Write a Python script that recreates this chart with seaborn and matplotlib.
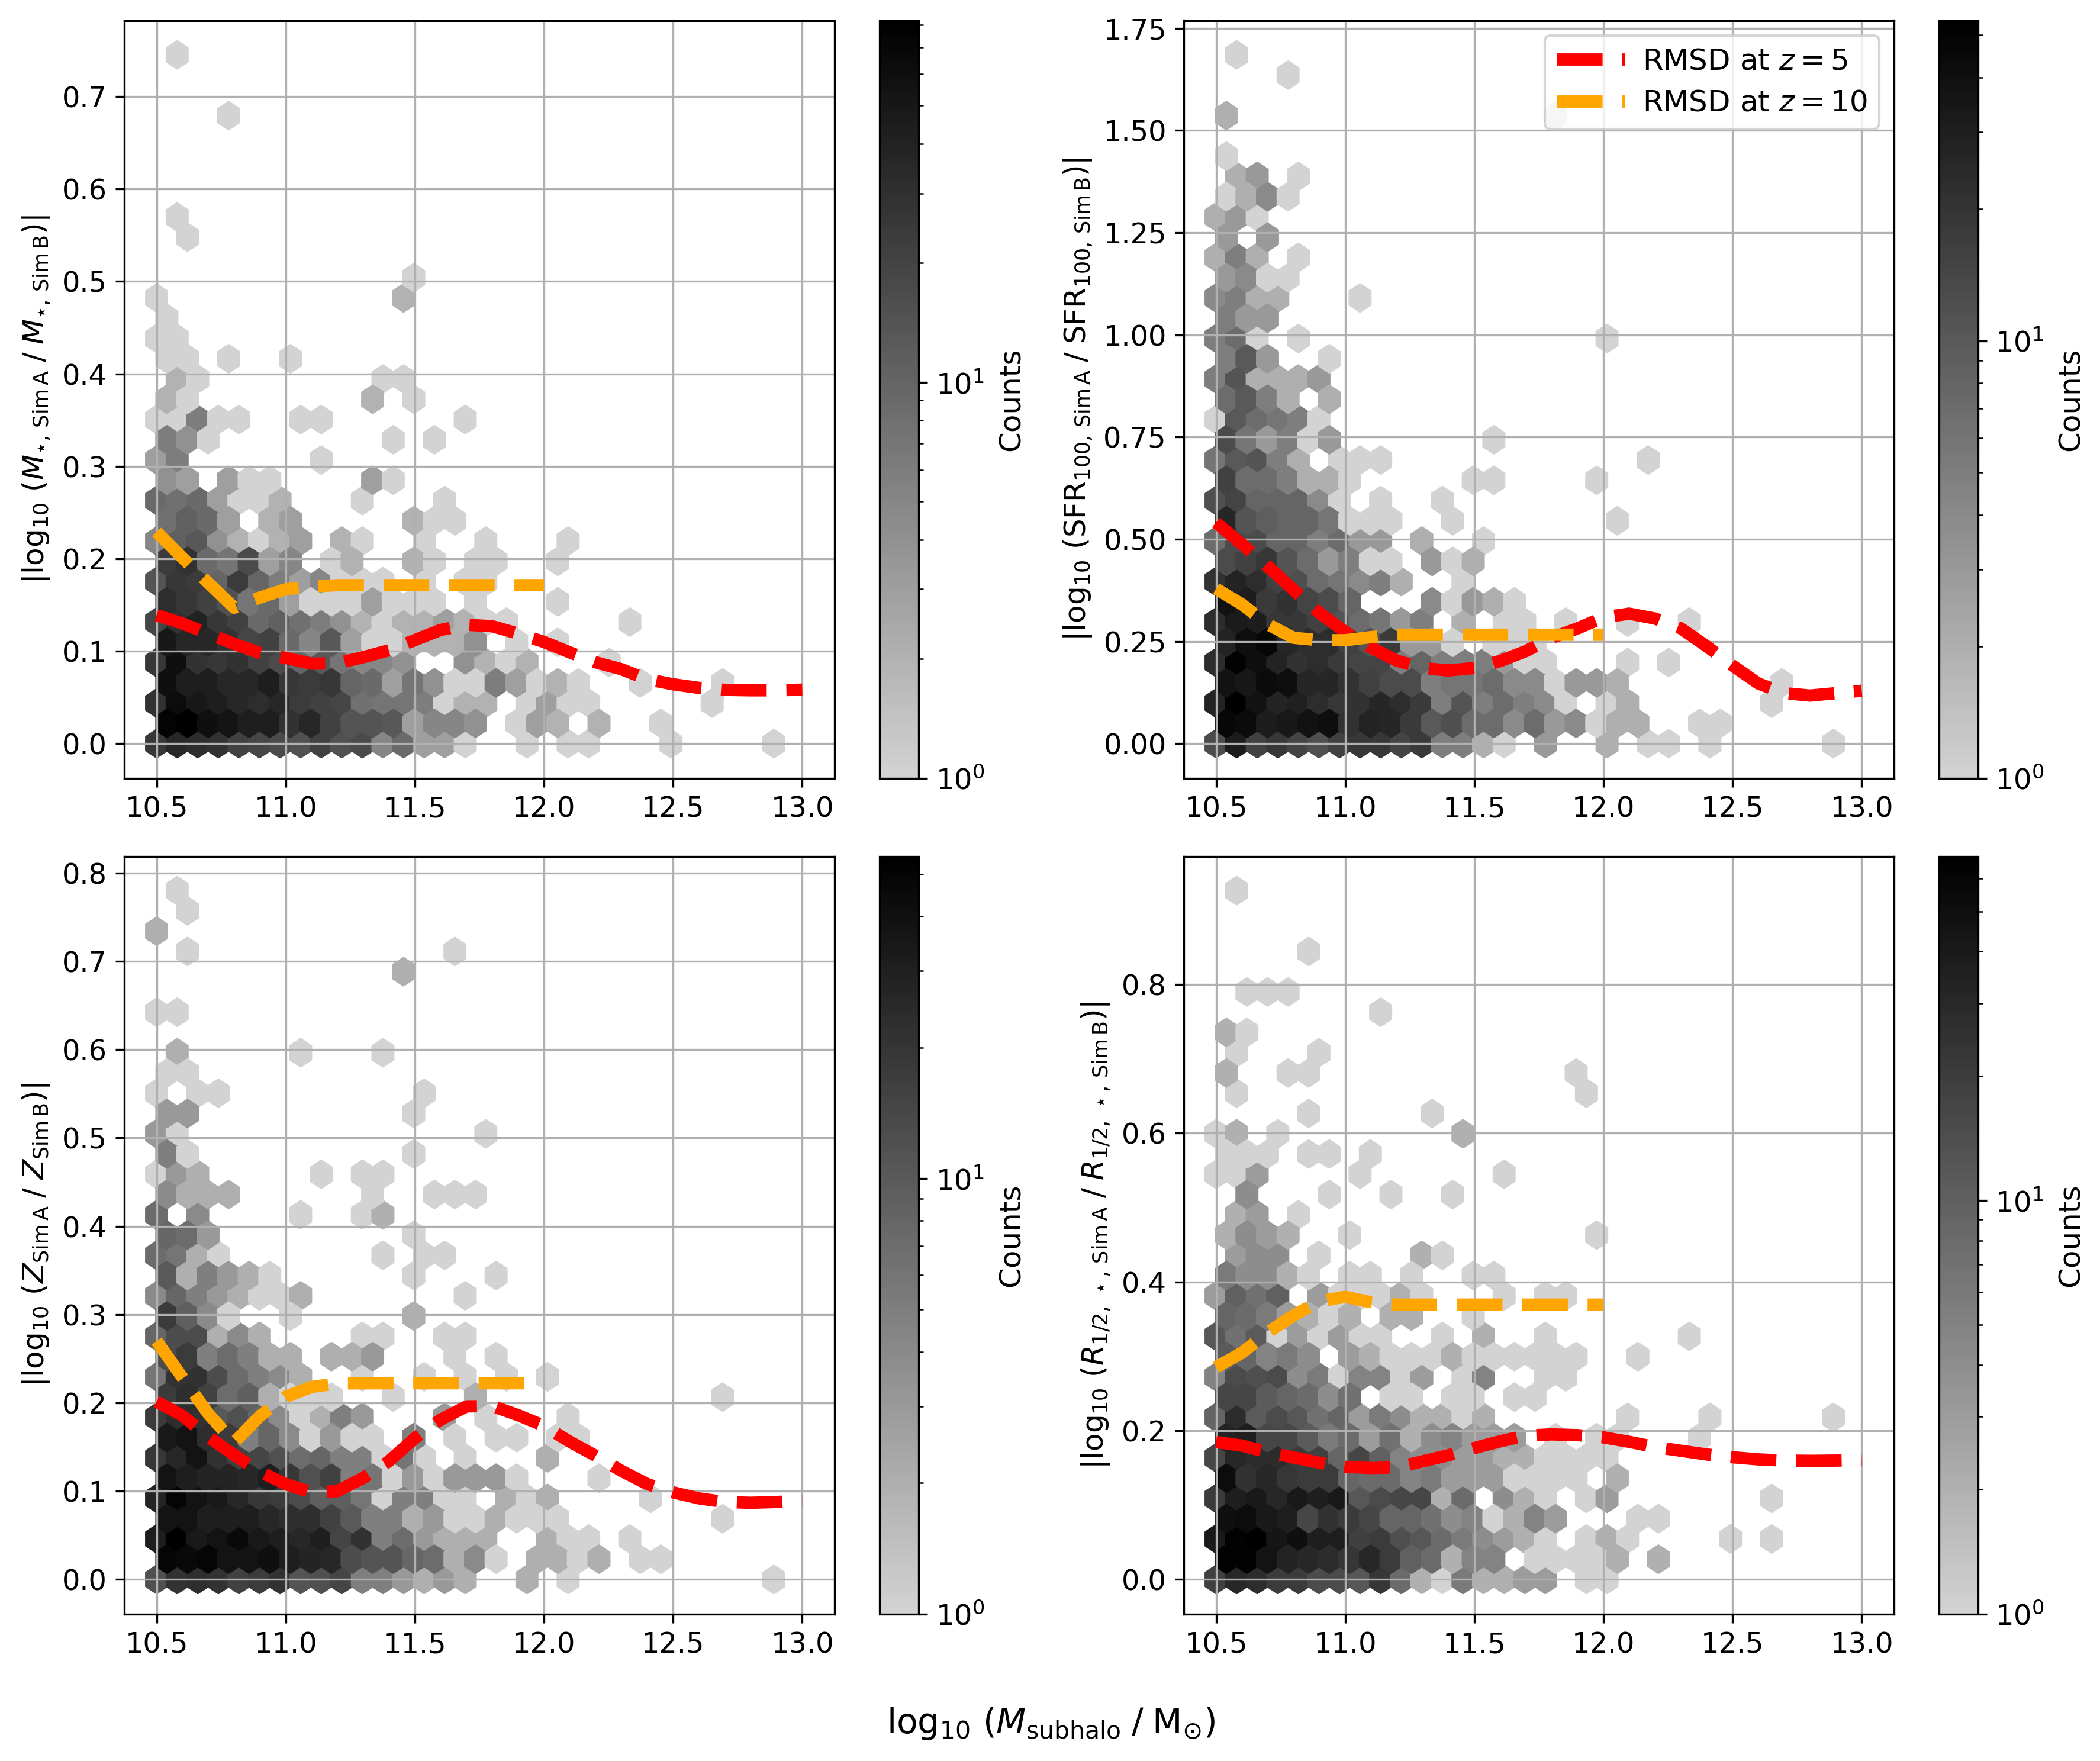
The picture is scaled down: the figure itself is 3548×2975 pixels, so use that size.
import numpy as np
import matplotlib
matplotlib.use("Agg")
import matplotlib.pyplot as plt
from matplotlib.colors import LogNorm
import seaborn as sns

W, H, DPI = 3548, 2975, 300
TICK_FS, LABEL_FS, XLABEL_FS, LEGEND_FS = 11.5, 12, 14, 12

HEX_X0, HEX_DX = 10.5, 0.07967

# Hex counts: each panel lists rows bottom to top, each row lists columns left to right.
MSTAR_COUNTS = [
 [26,36,32,29,21,19,17,15,21,15,17,5,9,3,3,1,0,0,1,0,1,1,0,0,0,1,0,0,0,0,1],
 [74,82,60,54,44,44,29,36,21,14,14,13,3,5,5,4,0,1,3,2,0,2,0,0,1],
 [29,63,49,44,36,32,36,24,21,19,8,7,7,6,1,2,2,0,1,3,1,1,0,0,0,0,0,1],
 [60,44,44,36,36,44,26,24,26,10,9,3,7,4,1,1,6,3,1,2,1,0,0,1,0,0,0,1],
 [26,60,29,26,29,21,17,10,13,7,5,5,4,0,0,4,2,1,2,0,0,0,1],
 [49,36,36,29,19,21,9,5,13,3,1,1,2,2,2,4,0,1,0,1],
 [19,29,40,26,21,9,11,8,6,4,2,1,2,2,3,2,1,1,0,0,0,0,0,1],
 [32,26,21,15,7,9,3,1,1,1,3,1,1,1,0,1,0,0,0,1],
 [14,26,24,10,24,10,6,3,5,1,1,1,0,1,0,1,1],
 [24,29,9,7,17,3,5,0,1,2,0,0,2,1,0,1,1,0,0,1],
 [5,11,13,4,2,1,2,3,0,2,1,0,0,1,0,0,1,0,0,0,1],
 [8,11,9,3,0,2,3,0,0,0,0,0,2,1,1],
 [9,8,9,3,1,1,2,0,0,0,1,0,0,0,1],
 [4,3,0,3,1,1,0,0,0,0,3,1],
 [3,6,0,0,0,0,0,0,1],
 [6,4,1,0,0,0,0,0,0,0,0,1,0,1],
 [1,1,6,1,1,0,0,1,1,0,0,0,0,0,0,1],
 [2,1,0,0,0,0,0,0,0,0,2,0,1],
 [0,2,1,0,0,0,0,0,0,0,0,1,1],
 [1,1,0,1,0,0,1],
 [1,1],
 [1],
 [1,0,0,0,0,0,0,0,0,0,0,0,2],
 [0,0,0,0,0,0,0,0,0,0,0,0,1],
 [],
 [0,1],
 [0,1],
 [], [], [], [],
 [0,0,0,1],
 [], [],
 [0,1],
]

SFR_COUNTS = [
 [13,32,16,19,15,12,16,19,19,15,18,5,5,2,1,0,3,0,0,2,0,1,1,0,1,0,0,0,0,0,1],
 [47,44,31,34,38,41,21,28,26,18,10,12,7,7,4,7,3,4,1,2,2,0,0,1,1],
 [28,54,38,27,29,23,19,21,26,23,18,5,11,5,7,5,4,1,0,1,2,0,0,0,0,0,0,1],
 [38,34,44,41,26,26,21,16,13,13,5,6,6,7,4,4,1,3,3,2,0,0,0,0,0,0,0,1],
 [23,51,41,28,21,23,18,15,15,5,8,5,5,5,3,1,1,0,0,0,1,0,1],
 [28,41,47,26,23,23,16,11,18,3,3,1,0,1,1,1],
 [23,32,31,19,19,16,11,7,6,3,5,0,2,0,1,1,0,1,0,0,1,0,0,1],
 [38,31,18,21,15,13,8,0,0,0,4,1,3,2,1],
 [21,28,23,16,12,7,6,4,5,2,0,0,1],
 [13,16,19,11,7,3,5,1,1,0,3,1,2],
 [7,13,13,8,8,5,7,3,3,0,2,0,0,1],
 [26,11,9,8,8,6,1,1,1,0,0,1,0,0,0,0,0,0,0,1],
 [12,15,8,8,8,4,1,0,1,0,0,1],
 [16,7,7,5,2,2,1,0,0,0,0,0,1,1,0,0,0,0,1],
 [6,10,11,5,2,0,1,1,1,0,0,0,0,0,0,0,0,0,0,0,0,1],
 [13,6,3,5,1,3,0,0,0,0,0,0,0,1],
 [1,10,7,6,5,1],
 [7,10,5,2,0,2],
 [5,11,2,2,2,3],
 [5,10,3,0,0,1],
 [5,7,1,0,1,0,0,0,0,0,0,0,0,0,0,0,0,0,0,1],
 [5,3,3],
 [4,5,2,2,0,0,0,1],
 [3,4,1,1],
 [2,5,2,0,1],
 [3,0,3],
 [2,3,1],
 [1,2,4,1],
 [0,2,3,0,1],
 [1],
 [],
 [2,0,0,0,0,0,0,0,0,0,0,0,0,0,0,0,1],
 [],
 [0,0,0,1],
 [0,1],
]

METAL_COUNTS = [
 [12,21,23,21,16,18,21,11,12,15,5,5,3,2,3,2,0,0,2,0,1,0,0,0,0,0,0,0,0,0,1],
 [50,46,50,38,38,41,31,28,26,13,11,11,8,7,2,4,1,0,2,2,1,2,0,1,1],
 [31,55,34,38,46,34,31,26,31,15,21,5,7,3,2,2,2,0,0,2,1,1,0,1],
 [38,38,31,31,31,26,23,23,16,10,5,5,2,3,1,1,2,1,1,1,0,0,0,0,0,0,0,1],
 [28,50,38,34,26,19,18,13,9,9,6,1,5,5,1,1,0,2,1,2,0,0,0,0,1],
 [38,31,28,28,26,31,19,12,16,5,6,1,3,1,3,3,3,1,0,0,0,1],
 [19,26,38,21,16,15,12,7,8,5,5,1,6,1,0,1,0,0,0,2],
 [34,38,23,18,5,8,4,1,3,1,1,0,5,0,1,0,1,1,0,1,1],
 [18,23,21,10,12,8,4,1,2,5,3,0,0,0,3,0,1,0,0,0,1],
 [18,23,16,7,9,2,1,1,1,0,0,1,0,0,0,2,0,0,0,0,0,0,0,0,0,0,0,1],
 [6,21,21,13,7,5,4,2,0,0,1,0,0,1,0,1,0,1,0,1],
 [13,18,5,7,5,2,2,0,2,2,3,0,0,0,1,0,1],
 [8,13,13,2,4,2,0,0,0,0,1,1,0,0,1,1],
 [18,9,4,1,0,0,1,0,0,0,0,0,2],
 [4,8,5,3,2,1,1,2,0,0,0,0,0,0,0,1],
 [10,2,5,3,2,1,0,0,0,0,0,0,1,0,0,0,1],
 [7,6,2,1,0,0,0,0,0,0,0,1,0,1,1],
 [8,7,3,0,0,0,0,0,0,0,0,0,1],
 [7,0,4,0,0,0,0,1,0,0,1,2],
 [4,2,2,2,0,0,0,0,0,0,1,0,0,1,1,1],
 [1,3,2,0,0,0,0,0,1,0,1,1],
 [5,1,0,0,0,0,0,0,0,0,0,0,1],
 [3,1,0,0,0,0,0,0,0,0,0,0,0,0,0,0,1],
 [3,3,0,0,0,0,0,0,0,0,0,0,1],
 [1,0,1,1,0,0,0,0,0,0,0,0,0,1],
 [1,1],
 [0,2,0,0,0,0,0,1,0,0,0,1],
 [],
 [1,1],
 [],
 [0,0,0,0,0,0,0,0,0,0,0,0,2],
 [0,1,0,0,0,0,0,0,0,0,0,0,0,0,1],
 [2],
 [0,1],
 [0,1],
]

RADIUS_COUNTS = [
 [19,31,28,21,21,15,15,12,23,8,2,1,6,2,2,3,3,0,1,1],
 [64,64,46,34,31,28,23,31,21,10,8,2,5,5,0,1,1,1,1,2,0,2],
 [41,64,68,44,50,37,37,19,21,14,12,8,6,4,3,2,1,0,1,2,1,0,0,0,0,1,0,1],
 [50,53,41,37,17,25,21,17,9,9,7,4,5,1,2,5,3,0,0,0,1,1],
 [21,37,41,31,41,37,41,12,15,17,17,2,8,0,4,2,1,0,1,3,0,0,0,0,0,0,0,1],
 [53,25,31,23,21,21,9,8,8,5,6,3,3,3,1,1,1,1,0,2],
 [17,31,28,28,21,19,9,17,10,5,4,4,3,3,2,2,1,1,1,1],
 [34,37,17,17,11,6,8,3,7,2,4,5,3,3,3,0,1,0,1,1,0,0,0,1],
 [9,28,11,15,12,7,9,3,6,4,2,2,1,2,0,0,0,0,0,0,1,0,0,0,1,0,0,0,0,0,1],
 [17,17,11,9,8,4,7,0,1,1,0,1,1,0,1,1],
 [5,15,14,15,4,6,1,5,5,1,3,0,1,5,0,0,1,1],
 [11,9,5,6,4,0,3,2,1,1,1,2,1,1,1,1,1,1,0,0,1],
 [12,7,11,1,3,1,3,1,1,0,0,1,0,2,0,0,1,0,0,0,0,0,0,1],
 [9,8,6,3,2,1,2,0,2,2,0,0,1],
 [3,10,7,10,0,3,1,1,1,2,1,0,0,0,1,0,1,1],
 [6,4,4,2,1,0,1,1,0,1,0,0,1,1],
 [0,3,4,4,0,1,0,0,0,0,2,1],
 [2,4,3,2,0,0,1,0,0,0,0,0,0,0,0,0,0,0,1],
 [0,2,3,0,1],
 [0,4,0,0,0,1,0,0,1,0,0,1],
 [1,1,3,0,0,0,0,1,0,0,0,0,0,0,1],
 [1,1,1,0,1,1,0,1],
 [1,2,0,1,0,0,0,0,0,0,0,0,2],
 [0,0,0,0,1,0,0,0,0,0,1],
 [0,1,0,0,0,0,0,0,0,0,0,0,0,0,0,0,0,0,1],
 [2,0,0,1,1,0,0,0,0,0,0,0,0,0,0,0,0,1],
 [0,1,0,0,0,1],
 [2,1],
 [0,0,0,0,0,0,0,0,1],
 [0,1,1,1],
 [],
 [0,0,0,0,1],
 [], [],
 [0,1],
]

# RMSD curves
RED_X = [10.5,10.6,10.7,10.8,10.9,11.0,11.1,11.2,11.3,11.4,11.5,11.6,11.7,11.8,11.9,
         12.0,12.1,12.2,12.3,12.4,12.5,12.6,12.7,12.8,12.9,13.0]
ORANGE_X = [10.5,10.6,10.7,10.8,10.9,11.0,11.1,11.2,11.4,11.6,11.8,12.0]

MSTAR_RED = [.139,.130,.119,.108,.098,.0927,.0865,.087,.0935,.101,.112,.123,.1286,.127,.119,
             .110,.0987,.088,.0805,.0696,.0642,.0603,.0582,.0577,.0577,.0584]
MSTAR_ORANGE = [.229,.201,.174,.147,.158,.167,.170,.1714,.1714,.1714,.1714,.1714]
SFR_RED = [.541,.488,.434,.376,.320,.2735,.235,.203,.185,.179,.185,.202,.2265,.259,.282,
           .309,.318,.306,.282,.238,.191,.147,.1235,.1176,.1235,.1294]
SFR_ORANGE = [.379,.341,.292,.259,.253,.253,.2606,.2665,.2665,.2665,.2665,.2665]
METAL_RED = [.2014,.1855,.1616,.141,.122,.108,.0986,.100,.115,.134,.160,.181,.196,.1964,.186,
             .174,.156,.140,.123,.108,.0986,.0918,.0877,.0868,.0877,.089]
METAL_ORANGE = [.27,.2288,.1877,.155,.185,.207,.218,.222,.2222,.2222,.2222,.2222]
RADIUS_RED = [.1848,.180,.171,.164,.157,.1514,.1498,.1507,.1588,.167,.1767,.1857,.1935,.195,.194,
              .191,.185,.178,.173,.168,.1643,.1614,.1598,.1595,.1598,.1605]
RADIUS_ORANGE = [.2853,.3047,.332,.355,.374,.380,.3727,.3695,.3695,.3695,.3695,.3695]

Y_MAX = [0.745, 1.685, 0.780, 0.926]
C_MAX = [82, 54, 55, 68]
YLABELS = [
    r"$|\log_{10}\,(M_{\star,\,\mathrm{Sim\,A}}\;/\;M_{\star,\,\mathrm{Sim\,B}})|$",
    r"$|\log_{10}\,(\mathrm{SFR}_{100,\,\mathrm{Sim\,A}}\;/\;\mathrm{SFR}_{100,\,\mathrm{Sim\,B}})|$",
    r"$|\log_{10}\,(Z_{\mathrm{Sim\,A}}\;/\;Z_{\mathrm{Sim\,B}})|$",
    r"$|\log_{10}\,(R_{1/2,\,\star,\,\mathrm{Sim\,A}}\;/\;R_{1/2,\,\star,\,\mathrm{Sim\,B}})|$",
]
XLABEL = r"$\log_{10}\,(M_{\mathrm{subhalo}}\;/\;\mathrm{M}_{\odot})$"
LEGEND_LABELS = [r"RMSD at $z=5$", r"RMSD at $z=10$"]

plt.rcParams.update({"font.family": "DejaVu Sans", "mathtext.fontset": "dejavusans",
                     "font.size": TICK_FS, "axes.labelsize": LABEL_FS})

fig = plt.figure(figsize=(W / DPI, H / DPI), dpi=DPI)
gray_map = sns.blend_palette(["lightgray", "black"], as_cmap=True)


def frac_box(left, top, right, bottom):
    return [left / W, 1 - bottom / H, (right - left) / W, (bottom - top) / H]


def hex_cells(rows, ymax):
    xs, ys, cs = [], [], []
    for j, row in enumerate(rows):
        for i, c in enumerate(row):
            if c:
                xs.append(HEX_X0 + (i + (j % 2) / 2) * HEX_DX)
                ys.append(j * ymax / 34)
                cs.append(c)
    return np.array(xs), np.array(ys), np.array(cs, dtype=float)


AX_BOXES = [(210, 34.5, 1410, 1314.5), (2000, 34.5, 3200, 1314.5),
            (210, 1446.5, 1410, 2726.5), (2000, 1446.5, 3200, 2726.5)]
CB_BOXES = [(1486, 34.5, 1552, 1314.5), (3276, 34.5, 3342, 1314.5),
            (1486, 1446.5, 1552, 2726.5), (3276, 1446.5, 3342, 2726.5)]
COUNTS = [MSTAR_COUNTS, SFR_COUNTS, METAL_COUNTS, RADIUS_COUNTS]
REDS = [MSTAR_RED, SFR_RED, METAL_RED, RADIUS_RED]
ORANGES = [MSTAR_ORANGE, SFR_ORANGE, METAL_ORANGE, RADIUS_ORANGE]

for k in range(4):
    ax = fig.add_axes(frac_box(*AX_BOXES[k]))
    cax = fig.add_axes(frac_box(*CB_BOXES[k]))
    ymax = Y_MAX[k]
    x, y, c = hex_cells(COUNTS[k], ymax)
    hb = ax.hexbin(x, y, C=c, reduce_C_function=np.sum, gridsize=(30, 17),
                   extent=(HEX_X0, HEX_X0 + 30 * HEX_DX, 0, ymax),
                   cmap=gray_map, norm=LogNorm(vmin=1, vmax=C_MAX[k]))
    sns.lineplot(x=RED_X, y=REDS[k], ax=ax, color="red", lw=5, linestyle="--",
                 sort=False, errorbar=None, estimator=None, legend=False,
                 label=LEGEND_LABELS[0], zorder=3)
    sns.lineplot(x=ORANGE_X, y=ORANGES[k], ax=ax, color="orange", lw=5, linestyle="--",
                 sort=False, errorbar=None, estimator=None, legend=False,
                 label=LEGEND_LABELS[1], zorder=3)
    ax.set_xlim(10.375, 13.125)
    ax.set_ylim(-0.05 * ymax, 1.05 * ymax)
    ax.set_xticks([10.5, 11, 11.5, 12, 12.5, 13])
    ax.set_xticklabels(["10.5", "11.0", "11.5", "12.0", "12.5", "13.0"])
    ax.grid(True)
    ax.set_xlabel("")
    ax.set_ylabel(YLABELS[k])
    cb = fig.colorbar(hb, cax=cax)
    cb.set_label("Counts", labelpad=5)
    if k == 1:
        ax.legend(loc="upper right", fontsize=LEGEND_FS, handlelength=2.3,
                  handletextpad=0.6, labelspacing=0.45)

fig.text(1776 / W, 1 - 2912 / H, XLABEL, ha="center", va="center", fontsize=XLABEL_FS)
fig.savefig("out.png", dpi=DPI)
